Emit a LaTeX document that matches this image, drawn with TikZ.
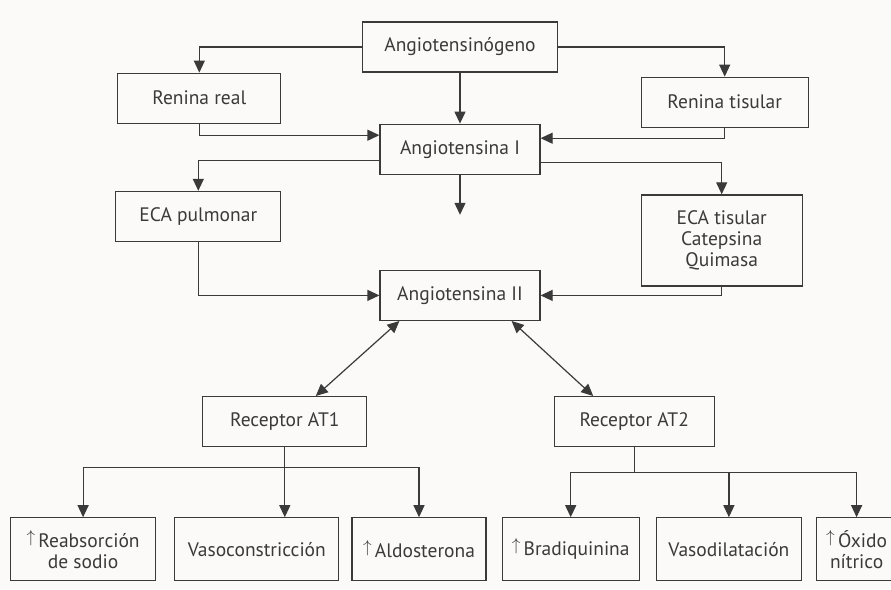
\documentclass[tikz,border=0pt]{standalone}
\usepackage{fontspec}
\setmainfont{PT Sans}
\usetikzlibrary{arrows.meta, positioning, calc}
\definecolor{inkgray}{HTML}{3A3A3A}
\definecolor{paper}{HTML}{FBFAF9}
\newcommand{\incr}{\raisebox{0.5ex}{\fontsize{16}{16}\selectfont$\uparrow$}\,}

\begin{document}
\begin{tikzpicture}[
  x=1pt, y=1pt,
  box/.style={draw=inkgray, line width=1.2pt, minimum width=#1, minimum height=50pt,
              text=inkgray, font=\fontsize{19.5}{21}\selectfont, align=center, inner sep=1pt},
  box/.default=160pt,
  leaf/.style={box=#1, minimum height=63pt},
  link/.style={line width=1.2pt, color=inkgray},
  arrow/.style={link, -{Triangle[length=12pt, width=11pt]}},
  both/.style={link, {Triangle[length=12pt, width=11pt]}-{Triangle[length=12pt, width=11pt]}}
]
\useasboundingbox (0,0) rectangle (891,-589);
\fill[paper] (0,0) rectangle (891,-589);
\clip (0,0) rectangle (891,-589);

% Main column
\node[box=195pt] (ang) at (460,-47) {Angiotensinógeno};
\node[box, below=51pt of ang] (angI) {Angiotensina I};
\node[box, below=95pt of angI] (angII) {Angiotensina II};

% Renin
\node[box=163pt, left=98pt of angI, yshift=51pt] (renreal) {Renina real};
\node[box=167pt, right=100pt of angI, yshift=47pt] (rentis) {Renina tisular};

% Converting enzymes
\node[box=165pt, left=98pt of angII, yshift=79pt] (ecap) {ECA pulmonar};
\node[box=161pt, minimum height=91pt, right=100pt of angII, yshift=55pt] (ecat) {ECA tisular\\Catepsina\\Quimasa};

% Receptors
\node[box=164pt, below left=75pt and 12pt of angII] (at1) {Receptor AT1};
\node[box, below right=75pt and 13pt of angII] (at2) {Receptor AT2};

% Effects
\node[leaf=164pt, below=70pt of at1, xshift=-28pt] (vasoc) {Vasoconstricción};
\node[leaf=145pt, left=18pt of vasoc] (reab) {\incr Reabsorción\\de sodio};
\node[leaf=134pt, right=12pt of vasoc] (aldo) {\incr Aldosterona};
\node[leaf=137pt, right=15pt of aldo] (brad) {\incr Bradiquinina};
\node[leaf=145pt, right=16pt of brad] (vasod) {Vasodilatación};
\node[leaf=80pt, right=14pt of vasod] (oxido) {\incr Óxido\\nítrico};

% Arrows - cascade
\draw[arrow] (ang.west) -| (renreal);
\draw[arrow] (ang.east) -| (rentis);
\draw[arrow] (ang) -- (angI);
\draw[arrow] (renreal) |- ([yshift=14pt]angI.west);
\draw[arrow] (rentis) |- ([yshift=11pt]angI.east);
\draw[arrow] ([yshift=-11pt]angI.west) -| (ecap);
\draw[arrow] ([yshift=-13pt]angI.east) -| (ecat);
\coordinate[below=40pt of angI] (angIend);
\draw[arrow] (angI) -- (angIend);
\draw[arrow] (ecap) |- (angII);
\draw[arrow] (ecat) |- (angII);

% Arrows - receptors
\draw[both] ([xshift=20pt]angII.south west) -- ([xshift=31pt]at1.north);
\draw[both] ([xshift=-29pt]angII.south east) -- ([xshift=-41pt]at2.north);

% Arrows - AT1
\coordinate[below=20pt of at1] (bus1);
\draw[arrow] (at1) -- (at1 |- vasoc.north);
\draw[arrow] (bus1) -| (reab);
\draw[arrow] (bus1) -| (aldo);

% Arrows - AT2
\coordinate[below=25pt of at2] (bus2);
\draw[link] (at2) -- (bus2);
\draw[arrow] (bus2) -| (brad);
\draw[arrow] (bus2) -| (vasod);
\draw[arrow] (bus2) -| (oxido);

\end{tikzpicture}
\end{document}
